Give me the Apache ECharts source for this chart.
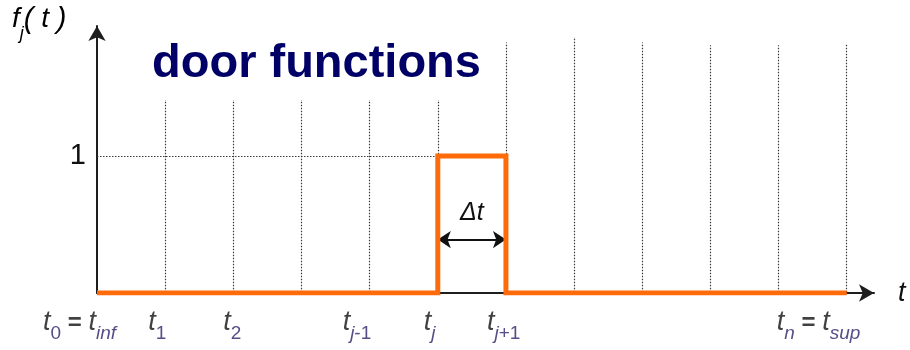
<!DOCTYPE html>
<html>
<head>
<meta charset="utf-8">
<script src="https://cdn.jsdelivr.net/npm/echarts@6/dist/echarts.min.js"></script>
<style>html,body{margin:0;padding:0;background:#fff}#c{width:910px;height:350px}</style>
</head>
<body>
<div id="c"></div>
<script>
// ---- data ----
const doorX = [0, 5, 5, 6, 6, 11];
const doorY = [0, 0, 1, 1, 0, 0];
const guideX = [1, 2, 3, 4, 5, 6, 7, 8, 9, 10, 11];
const guideTop = [1.41, 1.41, 1.41, 1.41, 1.41, 1.83, 1.87, 1.83, 1.81, 1.81, 1.82];
const guideBottom = -0.06;
const levelOne = 1;
const tickLabelPos = [0, 1, 2, 4, 5, 6, 11];
const tickLabelText = [
  '{t|t}{sn|0}{eq| = }{t|t}{si|inf}',
  '{t|t}{sn|1}',
  '{t|t}{sn|2}',
  '{t|t}{si|j}{sn|-1}',
  '{t|t}{si|j}',
  '{t|t}{si|j}{sn|+1}',
  '{t|t}{si|n}{eq| = }{t|t}{si|sup}'
];
const tickLabelShift = [-54, -17, -10, -27, -14, -19, -70];
const deltaFrom = 5, deltaTo = 6, deltaLevel = 0.39;
const titleText = 'door functions';

const subColor = '#2c2068';
const richT = {
  t: {fontFamily: 'Liberation Sans', fontStyle: 'italic', fontSize: 27, color: '#111', lineHeight: 34, verticalAlign: 'top'},
  sn: {fontFamily: 'Liberation Sans', fontSize: 19, color: subColor, verticalAlign: 'bottom'},
  si: {fontFamily: 'Liberation Sans', fontStyle: 'italic', fontSize: 19, color: subColor, verticalAlign: 'bottom'},
  eq: {fontFamily: 'Liberation Sans', fontWeight: 'bold', fontSize: 24, color: '#111', padding: [2, 0, 0, 0], verticalAlign: 'top'}
};

const guideSegs = guideX.map((x, i) => ({coords: [[x, guideBottom], [x, guideTop[i]]]}));
guideSegs.push({coords: [[0, levelOne], [doorX[1], levelOne]]});

const chart = echarts.init(document.getElementById('c'), null, {renderer: 'canvas'});
chart.setOption({
  animation: false,
  backgroundColor: '#fff',
  grid: {left: 97, right: 36, top: 26, bottom: 57},
  xAxis: {
    type: 'value', min: 0, max: 11.4,
    axisLine: {show: true, symbol: ['none', 'arrow'], symbolSize: [13, 15], lineStyle: {color: '#1e1e1e', width: 2}},
    axisTick: {show: false}, axisLabel: {show: false}, splitLine: {show: false},
    name: 't', nameLocation: 'end', nameGap: 24,
    nameTextStyle: {fontFamily: 'Liberation Sans', fontStyle: 'italic', fontSize: 27, color: '#111', padding: [12, 0, 0, 0]}
  },
  yAxis: {
    type: 'value', min: 0, max: 1.95, interval: 1,
    axisLine: {show: true, symbol: ['none', 'arrow'], symbolSize: [13, 15], lineStyle: {color: '#1e1e1e', width: 2}},
    axisTick: {show: false}, splitLine: {show: false},
    axisLabel: {
      show: true, margin: 11, fontFamily: 'Liberation Sans', fontSize: 29, color: '#111', padding: [9, 0, 0, 0],
      formatter: v => (v === levelOne ? String(levelOne) : '')
    }
  },
  graphic: [
    {type: 'text', left: 152, top: 41, style: {text: titleText, font: 'bold 47px "Liberation Sans"', fill: '#000066'}},
    {type: 'text', left: 12, top: 5, style: {
      text: '{f|f}{s|j}{p|(}{f| t }{p|)}',
      rich: {
        f: {fontFamily: 'Liberation Sans', fontStyle: 'italic', fontSize: 28, color: '#111', lineHeight: 38, verticalAlign: 'top'},
        p: {fontFamily: 'Liberation Sans', fontStyle: 'italic', fontSize: 29, color: '#111', verticalAlign: 'top'},
        s: {fontFamily: 'Liberation Sans', fontStyle: 'italic', fontSize: 18, color: subColor, verticalAlign: 'bottom'}
      }
    }}
  ],
  series: [
    {
      type: 'lines', coordinateSystem: 'cartesian2d', z: 1, silent: true,
      lineStyle: {color: '#3a3a3a', width: 1.2, type: [1.5, 1.5], opacity: 1},
      data: guideSegs
    },
    {
      type: 'lines', coordinateSystem: 'cartesian2d', z: 3, silent: true,
      symbol: ['arrow', 'arrow'], symbolSize: 13,
      lineStyle: {color: '#111', width: 2, opacity: 1},
      label: {show: true, position: 'middle', distance: 14, formatter: '{d|Δ}{t|t}',
        rich: {
          d: {fontFamily: 'Liberation Sans', fontStyle: 'italic', fontSize: 25, color: '#111'},
          t: {fontFamily: 'Liberation Sans', fontStyle: 'italic', fontSize: 25, color: '#111'}
        }},
      data: [{coords: [[deltaFrom, deltaLevel], [deltaTo, deltaLevel]]}]
    },
    {
      type: 'line', z: 4, silent: true, symbol: 'none',
      lineStyle: {color: '#ff6a0a', width: 5, cap: 'butt', join: 'miter'},
      data: doorX.map((x, i) => [x, doorY[i]])
    },
    {
      type: 'scatter', z: 5, silent: true, symbolSize: 0,
      data: tickLabelPos.map((x, i) => ({
        value: [x, 0],
        label: {show: true, position: 'bottom', distance: 16, align: 'left', offset: [tickLabelShift[i], 0],
          formatter: tickLabelText[i], rich: richT}
      }))
    }
  ]
});
</script>
</body>
</html>
